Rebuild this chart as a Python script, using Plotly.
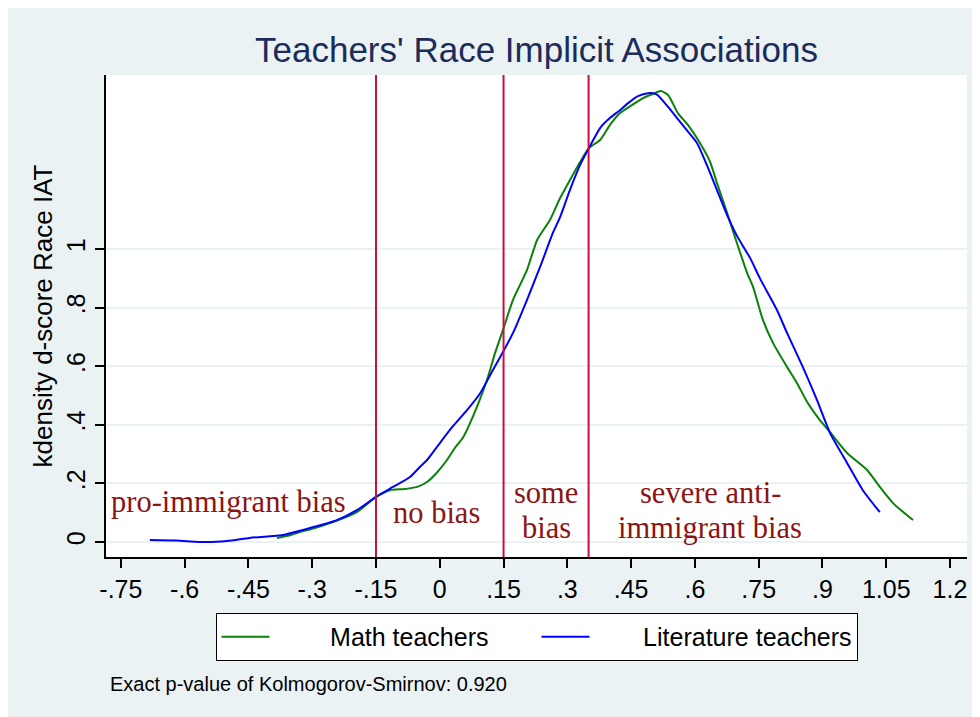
import plotly.graph_objects as go

# ---- data ----
math_x = [-0.383, -0.35, -0.329, -0.30, -0.251, -0.195, -0.15, -0.117, -0.082, -0.05, -0.030,
          -0.005, 0.017, 0.035, 0.055, 0.087, 0.111, 0.130, 0.151, 0.172, 0.205, 0.229, 0.259,
          0.283, 0.306, 0.330, 0.351, 0.377, 0.400, 0.424, 0.452, 0.478, 0.501, 0.520, 0.537,
          0.560, 0.584, 0.612, 0.636, 0.652, 0.676, 0.699, 0.723, 0.737, 0.760, 0.784, 0.817,
          0.840, 0.864, 0.894, 0.918, 0.958, 1.005, 1.035, 1.066, 1.113]
math_y = [0.014, 0.024, 0.034, 0.045, 0.068, 0.102, 0.154, 0.177, 0.181, 0.19, 0.205,
          0.24, 0.28, 0.32, 0.358, 0.46, 0.553, 0.645, 0.734, 0.826, 0.928, 1.031, 1.099,
          1.174, 1.235, 1.297, 1.345, 1.372, 1.423, 1.464, 1.491, 1.515, 1.529, 1.539, 1.526,
          1.464, 1.423, 1.362, 1.297, 1.225, 1.123, 1.02, 0.918, 0.870, 0.758, 0.679, 0.597,
          0.543, 0.478, 0.416, 0.375, 0.304, 0.246, 0.188, 0.133, 0.075]

lit_x = [-0.682, -0.62, -0.548, -0.50, -0.447, -0.40, -0.369, -0.305, -0.242, -0.195, -0.150,
         -0.110, -0.070, -0.047, -0.030, -0.007, 0.029, 0.064, 0.095, 0.125, 0.151, 0.172,
         0.205, 0.236, 0.266, 0.283, 0.306, 0.330, 0.351, 0.377, 0.400, 0.424, 0.443, 0.466,
         0.490, 0.510, 0.537, 0.558, 0.581, 0.605, 0.628, 0.652, 0.676, 0.699, 0.730, 0.753,
         0.793, 0.817, 0.854, 0.887, 0.918, 0.958, 0.995, 1.035]
lit_y = [0.007, 0.005, 0.0, 0.004, 0.014, 0.02, 0.024, 0.048, 0.075, 0.109, 0.154,
         0.188, 0.222, 0.256, 0.28, 0.324, 0.392, 0.45, 0.508, 0.587, 0.655, 0.713,
         0.826, 0.939, 1.055, 1.109, 1.201, 1.287, 1.345, 1.413, 1.447, 1.474, 1.498, 1.522,
         1.532, 1.528, 1.485, 1.447, 1.406, 1.362, 1.287, 1.201, 1.115, 1.045, 0.969, 0.900,
         0.792, 0.713, 0.597, 0.485, 0.372, 0.27, 0.177, 0.102]

cutoffs = [-0.15, 0.15, 0.35]

x_tickvals = [-0.75, -0.6, -0.45, -0.3, -0.15, 0, 0.15, 0.3, 0.45, 0.6, 0.75, 0.9, 1.05, 1.2]
x_ticktext = ["-.75", "-.6", "-.45", "-.3", "-.15", "0", ".15", ".3", ".45", ".6", ".75", ".9", "1.05", "1.2"]
y_tickvals = [0, 0.2, 0.4, 0.6, 0.8, 1.0]
y_ticktext = ["0", ".2", ".4", ".6", ".8", "1"]

region_labels = [
    ("pro-immigrant bias", -0.498, 0.137),
    ("no bias", -0.007, 0.099),
    ("some", 0.25, 0.167),
    ("bias", 0.25, 0.048),
    ("severe anti-", 0.636, 0.167),
    ("immigrant bias", 0.636, 0.048),
]

BG = "#EAF2F3"
SANS = "Arial, Liberation Sans, sans-serif"
SERIF = "Liberation Serif, Times New Roman, serif"
NB = "\u00a0"

fig = go.Figure()
fig.add_trace(go.Scatter(x=math_x, y=math_y, mode="lines", name=NB * 8 + "Math teachers",
                         line=dict(color="#0A820A", width=2, shape="spline", smoothing=0.6)))
fig.add_trace(go.Scatter(x=lit_x, y=lit_y, mode="lines", name=NB * 7 + "Literature teachers",
                         line=dict(color="#0000FF", width=2, shape="spline", smoothing=0.6)))

shapes = []
for c in cutoffs:
    shapes.append(dict(type="line", xref="x", yref="paper", x0=c, x1=c, y0=0, y1=1,
                       line=dict(color="#C8103A", width=2)))

annotations = []
for txt, ax, ay in region_labels:
    annotations.append(dict(text=txt, x=ax, y=ay, xref="x", yref="y", showarrow=False,
                            xanchor="center", yanchor="middle",
                            font=dict(family=SERIF, size=30.5, color="#8C1414")))
annotations.append(dict(text="Exact p-value of Kolmogorov-Smirnov: 0.920", xref="paper", yref="paper",
                        x=0.0023, y=-0.2635, xanchor="left", yanchor="middle", showarrow=False,
                        font=dict(family=SANS, size=20, color="black")))

fig.update_layout(
    width=980, height=717,
    margin=dict(l=98, r=21, t=67, b=168),
    paper_bgcolor=BG, plot_bgcolor="white",
    title=dict(text="Teachers' Race Implicit Associations", x=0.5, xref="paper",
               y=0.9414, yref="container", xanchor="center", yanchor="middle",
               font=dict(family=SANS, size=35, color="#1C2C5A")),
    shapes=shapes, annotations=annotations,
    showlegend=True,
    legend=dict(orientation="h", x=0.5, xanchor="center", y=-0.116, yanchor="top",
                bgcolor="white", bordercolor="black", borderwidth=1,
                font=dict(family=SANS, size=25, color="black"),
                itemwidth=48, entrywidth=257, entrywidthmode="pixels"),
    xaxis=dict(range=[-0.785, 1.24], tickvals=x_tickvals, ticktext=x_ticktext,
               showgrid=False, zeroline=False, showline=True, linecolor="black", linewidth=1.5,
               ticks="outside", ticklen=9, tickcolor="black", tickwidth=1.5,
               tickfont=dict(family=SANS, size=25, color="black")),
    yaxis=dict(range=[-0.051, 1.594], tickvals=y_tickvals, ticktext=y_ticktext,
               showgrid=True, gridcolor=BG, gridwidth=2, zeroline=False,
               showline=True, linecolor="black", linewidth=1.5,
               ticks="outside", ticklen=9, tickcolor="black", tickwidth=1.5, tickangle=-90,
               tickfont=dict(family=SANS, size=25, color="black"),
               title=dict(text="kdensity d-score Race IAT", standoff=2,
                          font=dict(family=SANS, size=26, color="black"))),
)

fig.write_html("out.html")
